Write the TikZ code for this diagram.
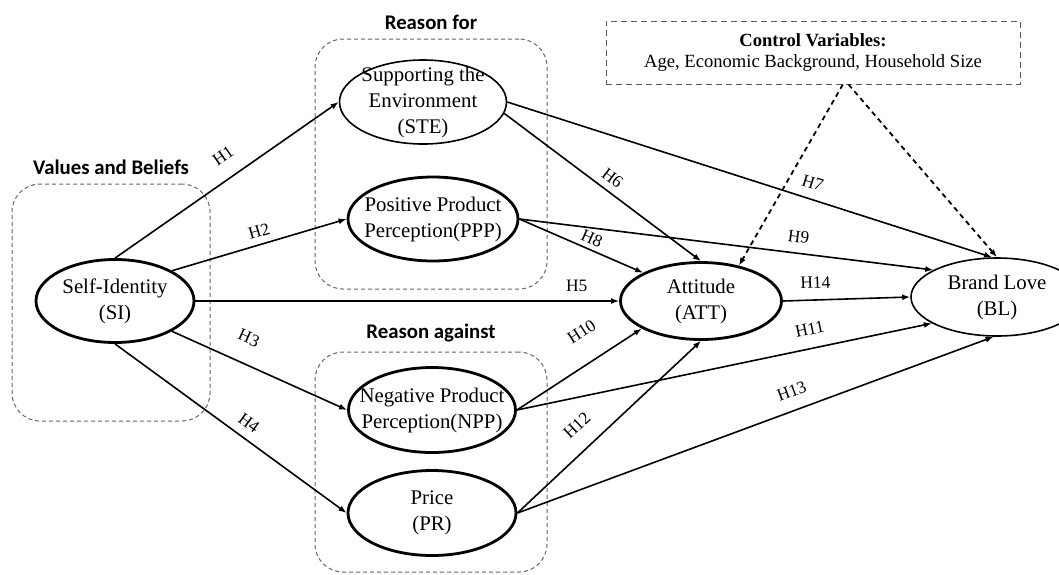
\documentclass[tikz,border=0pt]{standalone}
\usepackage{fontspec}
\setmainfont{Liberation Serif}
\newfontfamily\titlefont{Carlito}
\usetikzlibrary{positioning, shapes.geometric, arrows.meta, calc}

\begin{document}
\begin{tikzpicture}[x=0.5pt, y=-0.5pt, >={Latex[length=4pt,width=3pt]},
        every node/.style={font=\fontsize{10.4}{13}\selectfont},
        construct/.style={draw, ellipse, line width=1.4pt, inner sep=-15pt, align=center},
        lightconstruct/.style={construct, line width=0.8pt},
        groupbox/.style={draw=black!60, dash pattern=on 2pt off 1.5pt, rounded corners=14pt, line width=0.5pt},
        grouptitle/.style={font=\titlefont\bfseries\fontsize{10.4}{13}\selectfont, above=1pt of #1},
        effect/.style={->, line width=0.8pt},
        hyp/.style={above=#1, sloped, font=\fontsize{8.7}{10}\selectfont},
        hyp/.default=0pt,
        control/.style={->, dash pattern=on 2.5pt off 2pt, line width=0.9pt}]
        \useasboundingbox (0,0) rectangle (1059,574);

        % Groups
        \node (vbbox) [groupbox, minimum width=99pt, minimum height=118.5pt] at (111,302.5) {};
        \node (forbox) [groupbox, minimum width=116pt, minimum height=125pt] at (431,164) {};
        \node (againstbox) [groupbox, minimum width=116pt, minimum height=110pt] at (431,462) {};
        \node (vbtitle) [grouptitle=vbbox.north] {Values and Beliefs};
        \node (fortitle) [grouptitle=forbox.north] {Reason for};
        \node (againsttitle) [grouptitle=againstbox.north] {Reason against};

        % Constructs
        \node (si) [construct, minimum width=79pt, minimum height=41.5pt] at (115,301) {Self-Identity\\(SI)};
        \node (ste) [lightconstruct, minimum width=83.5pt, minimum height=42pt] at (423,102) {Supporting the\\Environment\\(STE)};
        \node (ppp) [construct, minimum width=85pt, minimum height=42pt] at (433,219) {Positive Product\\Perception(PPP)};
        \node (npp) [construct, minimum width=83.5pt, minimum height=42.5pt] at (432,410) {Negative Product\\Perception(NPP)};
        \node (pr) [construct, minimum width=84pt, minimum height=42.5pt] at (432,513) {Price\\(PR)};
        \node (att) [construct, minimum width=80.5pt, minimum height=38.5pt] at (701,301) {Attitude\\(ATT)};
        \node (bl) [lightconstruct, minimum width=86pt, minimum height=39pt] at (997,297) {Brand Love\\(BL)};

        % Control variables
        \node (ctrl) [draw=black!65, dash pattern=on 3pt off 2pt, line width=0.5pt, minimum width=207pt, minimum height=31.5pt, align=center, font=\fontsize{9.3}{10.5}\selectfont] at (813,52.5) {\textbf{Control Variables:}\\Age, Economic Background, Household Size};

        % Hypotheses
        \draw [effect] (si.north) -- node[hyp=4.5pt, pos=0.54] {H1} (ste.west);
        \draw [effect] (si.28) -- node[hyp, pos=0.52] {H2} (ppp.west);
        \draw [effect] (si.-28) -- node[hyp=6pt, pos=0.38] {H3} (npp.west);
        \draw [effect] (si.south) -- node[hyp=1pt, pos=0.54] {H4} (pr.west);
        \draw [effect] (si.east) -- node[hyp=1pt, pos=0.9] {H5} (att.west);
        \draw [effect] (ste.-8) -- node[hyp, pos=0.51] {H6} (att.north);
        \draw [effect] (ste.east) -- node[hyp=1.5pt, pos=0.62] {H7} (bl.97);
        \draw [effect] (ppp.east) -- node[hyp=-1pt, pos=0.55] {H8} (att.154);
        \draw [effect] (ppp.east) -- node[hyp=1.5pt, pos=0.67] {H9} (bl.157);
        \draw [effect] (npp.east) -- node[hyp=8.5pt, pos=0.65] {H10} (att.205);
        \draw [effect] (npp.east) -- node[hyp=3pt, pos=0.715] {H11} (bl.202);
        \draw [effect] (pr.east) -- node[hyp=5pt, pos=0.41] {H12} (att.south);
        \draw [effect] (pr.east) -- node[hyp=3pt, pos=0.59] {H13} (bl.-95);
        \draw [effect] (att.east) -- node[hyp=2pt, pos=0.26] {H14} (bl.west);

        % Control paths
        \draw [control] (ctrl.-47) -- (att.43);
        \draw [control] (ctrl.-42) -- (bl.north);
\end{tikzpicture}
\end{document}
